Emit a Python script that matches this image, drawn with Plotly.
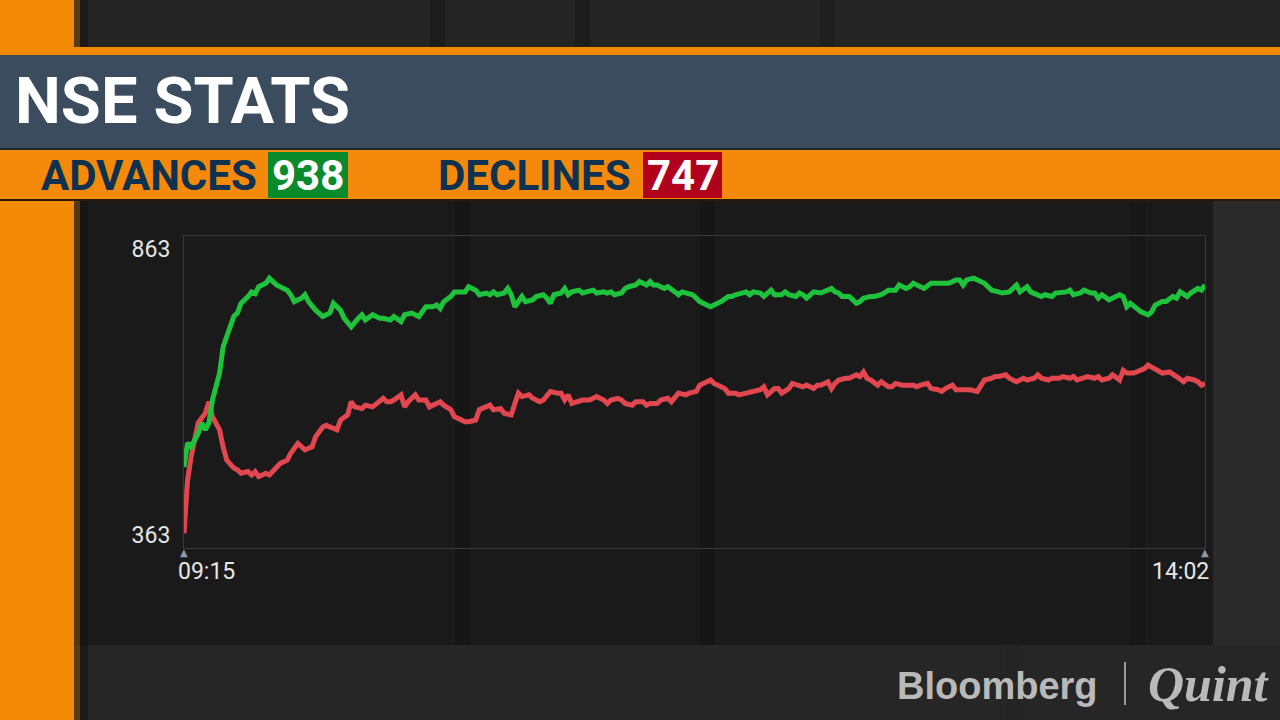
import plotly.graph_objects as go

W, H = 1280, 720

# minutes after 09:15 and number of advancing / declining NSE stocks
adv_minutes = [0, 1, 2, 4, 5, 6, 7, 8, 10, 11, 12, 14, 15, 16, 18, 19, 20, 21, 23, 24,
               26, 27, 29, 30, 31, 33, 34, 35, 37, 39, 41, 42, 44, 45, 47, 49, 50, 51, 53, 55,
               56, 58, 59, 61, 62, 64, 65, 66, 68, 70, 71, 72, 73, 75, 76, 78, 79, 80, 82, 83,
               85, 86, 87, 88, 90, 91, 92, 93, 94, 95, 96, 98, 99, 101, 102, 103, 104, 106, 107, 108,
               109, 111, 112, 114, 115, 116, 118, 119, 120, 121, 123, 124, 125, 127, 128, 130, 131, 132, 133, 135,
               136, 138, 139, 140, 142, 143, 145, 146, 148, 150, 151, 153, 154, 155, 157, 158, 159, 160, 162, 163,
               165, 166, 168, 169, 170, 172, 173, 174, 175, 176, 177, 179, 180, 182, 183, 184, 185, 187, 188, 189,
               190, 191, 193, 194, 196, 197, 198, 200, 201, 203, 204, 205, 207, 208, 210, 211, 212, 214, 215, 217,
               218, 219, 220, 222, 223, 225, 226, 227, 229, 230, 232, 233, 234, 235, 237, 238, 240, 241, 242, 244,
               245, 247, 248, 249, 250, 252, 253, 255, 256, 257, 258, 260, 261, 263, 264, 265, 266, 268, 269, 271,
               272, 273, 275, 276, 278, 279, 280, 282, 283, 285, 286, 287]
advances = [482, 524, 517, 541, 559, 547, 559, 599, 646, 692, 710, 745, 751, 768, 780, 788, 785, 797, 803, 812,
            800, 797, 791, 783, 771, 777, 783, 771, 756, 745, 751, 768, 756, 742, 727, 742, 748, 739, 748, 742,
            742, 739, 745, 736, 748, 751, 748, 745, 762, 762, 765, 759, 771, 780, 788, 788, 788, 797, 791, 783,
            786, 783, 788, 783, 786, 794, 783, 762, 771, 780, 771, 774, 780, 783, 777, 768, 783, 786, 794, 783,
            788, 791, 786, 788, 791, 786, 788, 786, 788, 783, 786, 794, 797, 800, 806, 800, 806, 800, 800, 794,
            797, 788, 783, 788, 786, 783, 771, 768, 762, 768, 771, 780, 780, 783, 786, 788, 783, 788, 786, 780,
            791, 783, 783, 788, 783, 780, 786, 783, 777, 783, 788, 786, 788, 794, 788, 786, 780, 780, 774, 768,
            771, 777, 780, 780, 783, 786, 791, 791, 800, 794, 797, 803, 797, 794, 803, 803, 803, 803, 803, 809,
            809, 800, 809, 812, 809, 803, 797, 791, 788, 786, 788, 794, 800, 788, 797, 788, 783, 780, 783, 780,
            786, 786, 788, 791, 783, 786, 791, 786, 786, 777, 783, 774, 777, 783, 780, 762, 768, 759, 753, 748,
            753, 765, 771, 771, 780, 777, 788, 780, 786, 794, 791, 800]

dec_minutes = [0, 1, 2, 3, 4, 6, 7, 8, 10, 11, 12, 14, 15, 16, 18, 19, 20, 21, 23, 24,
               26, 27, 29, 30, 32, 33, 34, 36, 37, 39, 40, 41, 43, 44, 46, 47, 48, 50, 51, 53,
               54, 56, 57, 58, 59, 61, 62, 63, 65, 66, 68, 69, 71, 72, 73, 75, 76, 78, 79, 80,
               82, 83, 85, 86, 87, 89, 90, 92, 93, 94, 95, 97, 98, 100, 101, 102, 103, 105, 106, 107,
               108, 109, 111, 112, 114, 115, 116, 118, 119, 120, 122, 123, 124, 126, 127, 129, 130, 131, 133, 134,
               136, 137, 138, 139, 141, 142, 144, 145, 146, 148, 149, 151, 152, 153, 155, 156, 158, 159, 160, 162,
               163, 164, 166, 167, 168, 170, 171, 173, 174, 175, 177, 178, 179, 181, 182, 183, 184, 186, 187, 189,
               190, 191, 192, 193, 195, 196, 198, 199, 200, 202, 203, 205, 206, 207, 209, 210, 212, 213, 214, 216,
               217, 218, 219, 221, 223, 224, 225, 227, 228, 229, 231, 232, 234, 235, 236, 237, 239, 240, 241, 243,
               244, 246, 247, 249, 250, 251, 253, 254, 256, 257, 258, 260, 261, 263, 264, 265, 267, 268, 270, 271,
               272, 274, 275, 277, 278, 279, 281, 282, 284, 285, 286, 287]
declines = [366, 459, 500, 535, 559, 576, 596, 570, 547, 517, 494, 480, 477, 471, 474, 468, 474, 465, 471, 468,
            480, 488, 494, 506, 523, 517, 512, 517, 535, 552, 555, 552, 547, 564, 573, 596, 587, 584, 590, 587,
            593, 602, 596, 596, 599, 608, 587, 596, 608, 599, 599, 587, 593, 596, 590, 582, 570, 564, 561, 561,
            564, 582, 587, 590, 582, 584, 576, 573, 593, 611, 605, 608, 602, 596, 599, 605, 614, 611, 611, 599,
            608, 593, 596, 599, 599, 602, 605, 599, 593, 599, 602, 599, 593, 590, 596, 596, 590, 593, 593, 599,
            602, 596, 605, 611, 608, 611, 614, 625, 628, 634, 628, 622, 619, 611, 611, 608, 611, 611, 614, 617,
            622, 608, 619, 619, 611, 619, 628, 625, 622, 625, 619, 625, 625, 631, 619, 628, 634, 637, 637, 643,
            640, 648, 637, 634, 625, 631, 622, 622, 628, 625, 625, 625, 622, 625, 628, 619, 617, 614, 619, 625,
            617, 617, 617, 617, 614, 625, 634, 637, 640, 640, 643, 637, 631, 634, 637, 634, 637, 643, 637, 634,
            637, 637, 640, 637, 640, 634, 637, 640, 637, 640, 634, 637, 643, 634, 651, 646, 646, 648, 654, 660,
            657, 651, 646, 648, 643, 640, 631, 637, 634, 631, 625, 628]

y_ticks = [363, 863]
x_labels = ["09:15", "14:02"]
advances_now, declines_now = 938, 747

GREEN = "#1fc23c"
RED = "#e2474f"
ORANGE = "#f38a05"


def px(x):
    return x / W


def py(y):
    return 1 - y / H


def rect(x0, y0, x1, y1, color, opacity=1.0):
    return dict(type="rect", xref="paper", yref="paper", x0=px(x0), x1=px(x1),
                y0=py(y1), y1=py(y0), fillcolor=color, line_width=0,
                opacity=opacity, layer="below")


def label(x, y, text, size, color, xanchor="left", family="Roboto", bold=True):
    return dict(x=px(x), y=py(y), xref="paper", yref="paper", text=text, showarrow=False,
                xanchor=xanchor, yanchor="middle",
                font=dict(family=family, size=size, color=color, weight=700 if bold else 400))


fig = go.Figure()
fig.add_scatter(x=dec_minutes, y=declines, mode="lines", name="Declines",
                line=dict(color=RED, width=5))
fig.add_scatter(x=adv_minutes, y=advances, mode="lines", name="Advances",
                line=dict(color=GREEN, width=5))

shapes = [
    rect(1213, 200, 1280, 645, "#2a2a2a"),
    rect(80, 0, 1280, 47, "#242424"),
    rect(72, 200, 1213, 645, "#1a1a1a"),
    rect(430, 0, 445, 47, "#1c1c1c"),
    rect(575, 0, 590, 47, "#1d1d1d"),
    rect(820, 0, 835, 47, "#1f1f1f"),
    rect(455, 200, 470, 645, "#161616"),
    rect(700, 200, 715, 645, "#161616"),
    rect(1130, 200, 1145, 645, "#171717"),
    rect(1005, 645, 1020, 720, "#242424"),
    rect(0, 0, 74, 720, ORANGE),
    rect(74, 0, 80, 720, "#7a4a10", 0.6),
    rect(80, 0, 88, 720, "#101010", 0.5),
    rect(0, 47, 1280, 55, ORANGE),
    rect(0, 55, 1280, 148, "#3b4c5e"),
    rect(0, 148, 1280, 150, "#1d2833"),
    rect(0, 150, 1280, 199, "#f5890b"),
    rect(0, 199, 1280, 201, "#2a1a08"),
    rect(268, 152, 348, 198, "#0b8a2c"),
    rect(643, 152, 722, 198, "#b1001d"),
    dict(type="line", xref="paper", yref="paper", x0=px(1125), x1=px(1125),
         y0=py(705), y1=py(662), line=dict(color="#9a9a9a", width=2)),
]

annotations = [
    label(13, 101, "NSE STATS", 65, "#ffffff"),
    label(39, 175, "ADVANCES", 42, "#0e3250"),
    label(308, 175, str(advances_now), 42, "#ffffff", "center"),
    label(436, 175, "DECLINES", 42, "#0e3250"),
    label(683, 175, str(declines_now), 42, "#ffffff", "center"),
    label(176, 571, x_labels[0], 23, "#e6e6e6", bold=False),
    label(1211, 571, x_labels[1], 23, "#e6e6e6", "right", bold=False),
    label(1100, 686, "Bloomberg", 38, "#b9b9b9", "right", "Liberation Sans"),
    label(1146, 684, "<i>Quint</i>", 50, "#b9b9b9", "left", "Liberation Serif"),
]
# small grey markers under the first and last time stamp
for m in (adv_minutes[0], adv_minutes[-1]):
    annotations.append(dict(x=m, y=py(552), xref="x", yref="paper", text="▲", showarrow=False,
                            xanchor="center", yanchor="middle",
                            font=dict(family="DejaVu Sans", size=10, color="#8c9aab")))

fig.update_layout(
    width=W, height=H, autosize=False,
    margin=dict(l=0, r=0, t=0, b=0),
    paper_bgcolor="#262626",
    plot_bgcolor="rgba(0,0,0,0)",
    showlegend=False,
    shapes=shapes,
    annotations=annotations,
    xaxis=dict(domain=[px(184), px(1205)], range=[0, 287], showgrid=False, zeroline=False,
               showticklabels=False, showline=True, mirror=True, linecolor="#3a3a3a", linewidth=1),
    yaxis=dict(domain=[py(548), py(236)], range=[340.3, 885.7], showgrid=False, zeroline=False,
               tickvals=y_ticks, ticktext=[str(v) for v in y_ticks], ticks="",
               ticklabelstandoff=8,
               tickfont=dict(family="Roboto", size=23, color="#e6e6e6"),
               showline=True, mirror=True, linecolor="#3a3a3a", linewidth=1),
)

fig.write_html("out.html", config={"displayModeBar": False},
               post_script="document.body.style.margin='0';")
